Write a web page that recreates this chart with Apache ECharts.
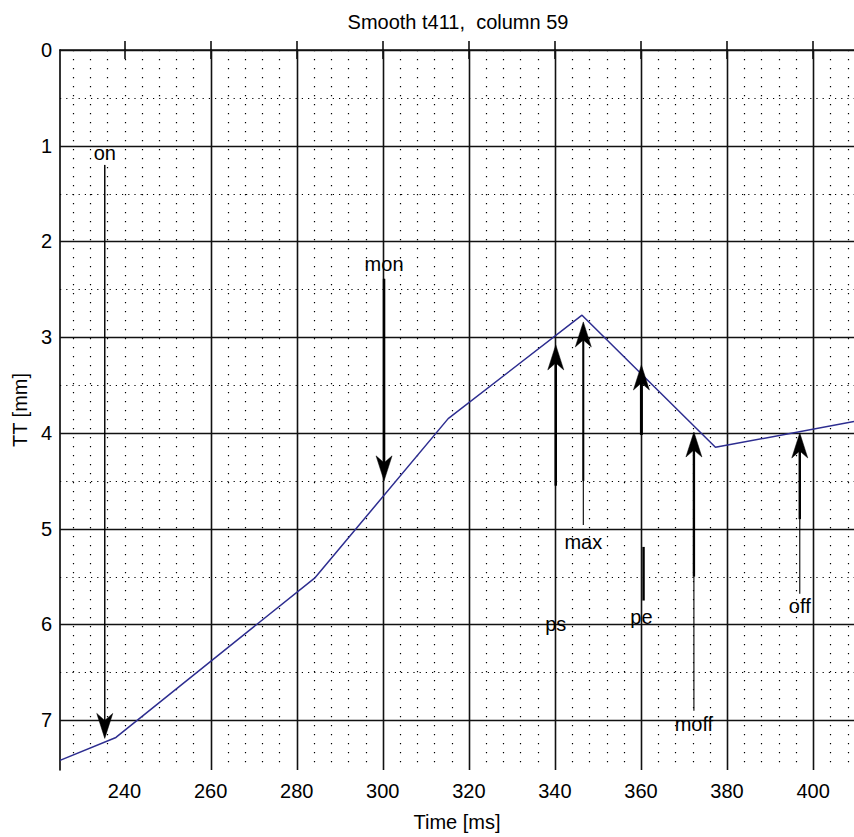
<!DOCTYPE html>
<html><head><meta charset="utf-8">
<script src="https://cdn.jsdelivr.net/npm/echarts@6/dist/echarts.min.js"></script>
<style>html,body{margin:0;padding:0;background:#fff}#c{width:854px;height:837px}</style>
</head><body><div id="c"></div>
<script>
// ---- data ----
const timeMs = [225, 238, 284.3, 315.2, 346.3, 377.3, 409.5];
const ttMm   = [7.42, 7.18, 5.51, 3.85, 2.77, 4.15, 3.88];
const xTickLabels = [240, 260, 280, 300, 320, 340, 360, 380, 400];
const yTickLabels = [0, 1, 2, 3, 4, 5, 6, 7];
const eventNames = ['on', 'mon', 'ps', 'max', 'pe', 'moff', 'off'];
const eventTimes = [235.4, 300.3, 340.2, 346.6, 360.1, 372.3, 396.9];
const arrowTail  = [1.2, 2.39, 4.55, 4.96, 4.02, 6.9, 5.68];
const arrowTip   = [7.19, 4.5, 3.08, 2.84, 3.29, 3.99, 4.0];
const thickEnd   = [1.2, 2.39, 4.55, 4.5, 4.02, 5.5, 4.9];
const labelPos   = [1.08, 2.23, 5.99, 5.14, 5.92, 7.04, 5.81];
const stubTimes  = [360.6];
const stubFrom   = [5.19];
const stubTo     = [5.75];
const titleText = 'Smooth t411,  column 59';
const xName = 'Time [ms]';
const yName = 'TT [mm]';

// ---- scales / styles ----
const X_MIN = 225, X_MAX = 409.5, Y_MIN = 0, Y_MAX = 7.52;
const majorX = [260, 280, 300, 320, 340, 360, 380, 400];
const majorY = [0, 1, 2, 3, 4, 5, 6, 7];
const minorX = [];
for (let v = 228; v < X_MAX; v += 4) if (majorX.indexOf(v) < 0) minorX.push(v);
const minorY = [];
for (let v = 0.5; v < 7; v += 1) minorY.push(v);
const thickWidths = [1, 2.5, 2.5, 2, 3, 2.4, 2.4];
const FONT = '"Liberation Sans",Arial,Helvetica,sans-serif';
const FS = 20;

const chart = echarts.init(document.getElementById('c'), null, {renderer: 'svg'});

function vLine(style) {
  return function (p, api) {
    const a = api.coord([api.value(0), Y_MIN]);
    const b = api.coord([api.value(0), Y_MAX]);
    const x = Math.round(a[0]) + 0.5;
    return {type: 'line', shape: {x1: x, y1: a[1], x2: x, y2: b[1]}, style: style};
  };
}
function hLine(style) {
  return function (p, api) {
    const a = api.coord([X_MIN, api.value(1)]);
    const b = api.coord([X_MAX, api.value(1)]);
    const y = Math.round(a[1]) + 0.5;
    return {type: 'line', shape: {x1: a[0], y1: y, x2: b[0], y2: y}, style: style};
  };
}
const dotV = {stroke: '#000', lineWidth: 1.2, lineDash: [1.2, 7.8]};
const dotH = {stroke: '#000', lineWidth: 1.2, lineDash: [1.2, 5]};
const solid = {stroke: '#111', lineWidth: 1.6};

chart.setOption({
  animation: false,
  backgroundColor: '#fff',
  textStyle: {fontFamily: FONT},
  grid: {left: 60, top: 50, right: 0, bottom: 67, containLabel: false},
  graphic: [{
    type: 'text', x: 458, y: 22,
    style: {text: titleText, fontSize: FS, fontFamily: FONT, fill: '#000', align: 'center', verticalAlign: 'middle'}
  }],
  xAxis: [{
    type: 'value', min: X_MIN, max: X_MAX, position: 'bottom',
    name: xName, nameLocation: 'middle', nameGap: 42,
    nameTextStyle: {fontSize: FS, fontFamily: FONT, color: '#000'},
    axisLine: {show: true, lineStyle: {color: '#000', width: 1.6}},
    axisTick: {show: true, inside: true, length: 9, customValues: xTickLabels, lineStyle: {color: '#000', width: 1.5}},
    axisLabel: {show: true, customValues: xTickLabels, fontSize: FS, fontFamily: FONT, color: '#000', margin: 11},
    splitLine: {show: false}
  }, {
    type: 'value', min: X_MIN, max: X_MAX, position: 'top',
    axisLine: {show: false},
    axisTick: {show: true, inside: true, length: 9, customValues: xTickLabels, lineStyle: {color: '#000', width: 1.5}},
    axisLabel: {show: false},
    splitLine: {show: false}
  }],
  yAxis: [{
    type: 'value', inverse: true, min: Y_MIN, max: Y_MAX,
    name: yName, nameLocation: 'middle', nameGap: 30, nameRotate: 90,
    nameTextStyle: {fontSize: FS, fontFamily: FONT, color: '#000'},
    axisLine: {show: true, lineStyle: {color: '#000', width: 1.6}},
    axisTick: {show: false},
    axisLabel: {show: true, customValues: yTickLabels, fontSize: FS, fontFamily: FONT, color: '#000', margin: 8},
    splitLine: {show: false}
  }],
  series: [
    {type: 'custom', silent: true, clip: true, z: 1, data: minorX.map(v => [v, 0]), renderItem: vLine(dotV)},
    {type: 'custom', silent: true, clip: true, z: 1, data: minorY.map(v => [X_MIN, v]), renderItem: hLine(dotH)},
    {type: 'custom', silent: true, clip: true, z: 1, data: majorX.map(v => [v, 0]), renderItem: vLine(solid)},
    {type: 'custom', silent: true, clip: true, z: 1, data: majorY.map(v => [X_MIN, v]), renderItem: hLine(solid)},
    {
      type: 'line', z: 3, silent: true, showSymbol: false, symbol: 'none',
      data: timeMs.map((t, i) => [t, ttMm[i]]),
      lineStyle: {color: '#2d2d90', width: 1.5}
    },
    {
      type: 'custom', z: 4, silent: true, clip: false,
      data: stubTimes.map((t, i) => [t, stubFrom[i], stubTo[i]]),
      renderItem: function (p, api) {
        const a = api.coord([api.value(0), api.value(1)]);
        const b = api.coord([api.value(0), api.value(2)]);
        return {type: 'line', shape: {x1: a[0], y1: a[1], x2: b[0], y2: b[1]}, style: {stroke: '#000', lineWidth: 2.4}};
      }
    },
    {
      type: 'custom', z: 4, silent: true, clip: false,
      data: eventNames.map((n, i) => [eventTimes[i], arrowTail[i], arrowTip[i], labelPos[i], thickEnd[i]]),
      renderItem: function (p, api) {
        const i = p.dataIndex;
        const t = api.value(0);
        const p0 = api.coord([t, api.value(1)]);
        const p1 = api.coord([t, api.value(2)]);
        const lp = api.coord([t, api.value(3)]);
        const pt = api.coord([t, api.value(4)]);
        const dir = p1[1] > p0[1] ? 1 : -1;
        const L = 25, W = 8, N = 18;
        const x = p1[0], y = p1[1];
        const head = [[x, y], [x - W, y - dir * L], [x, y - dir * N], [x + W, y - dir * L]];
        return {type: 'group', children: [
          {type: 'line', shape: {x1: x, y1: p0[1], x2: x, y2: y - dir * N}, style: {stroke: '#000', lineWidth: 1.1}},
          {type: 'line', shape: {x1: x, y1: pt[1], x2: x, y2: y - dir * N}, style: {stroke: '#000', lineWidth: thickWidths[i]}},
          {type: 'polygon', shape: {points: head}, style: {fill: '#000', stroke: '#000', lineWidth: 0.5}},
          {type: 'text', style: {text: eventNames[i], x: lp[0], y: lp[1], align: 'center', verticalAlign: 'middle',
            fontSize: FS, fontFamily: FONT, fill: '#000'}}
        ]};
      }
    }
  ]
});
</script>
</body></html>
